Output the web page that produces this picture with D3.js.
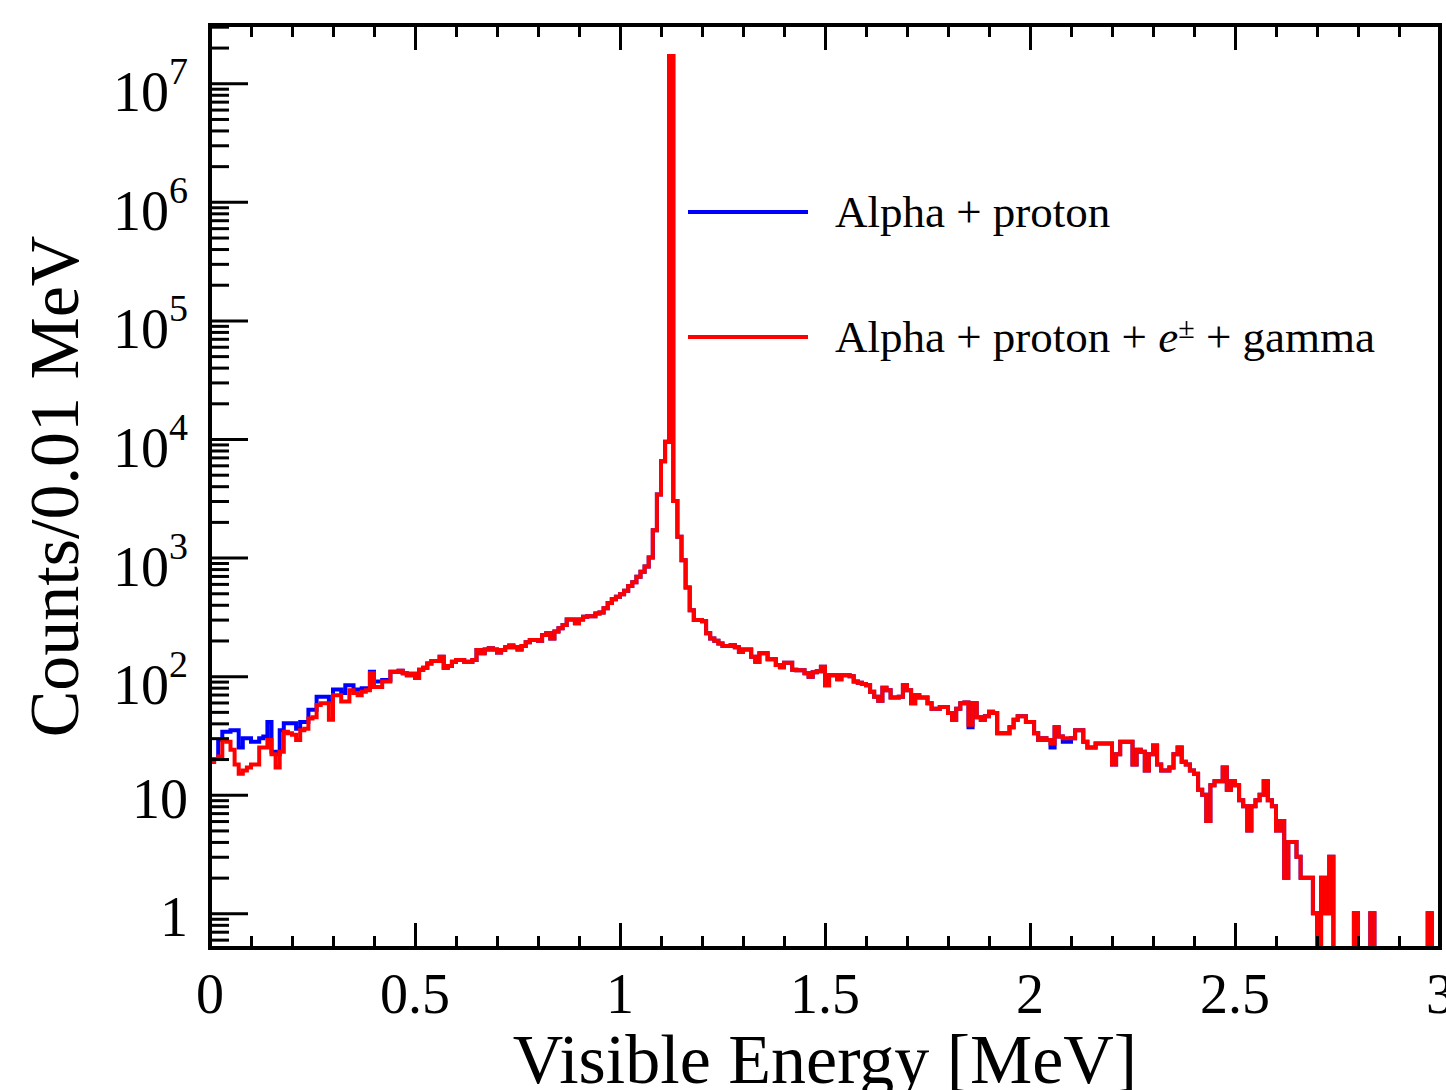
<!DOCTYPE html>
<html>
<head>
<meta charset="utf-8">
<script src="https://cdn.jsdelivr.net/npm/d3@7"></script>
<style>
  body { margin: 0; background: #fff; }
  text { font-family: "Liberation Serif", "Times New Roman", serif; fill: #000; }
</style>
</head>
<body>
<svg id="chart"></svg>
<script>
// histogram: 300 bins of 0.01 MeV from 0 to 3 MeV
const binWidth = 0.01;

// "Alpha + proton + e± + gamma" (red), counts per bin
const redCounts = [
  19, 20, 21, 29, 28, 24, 18, 15, 16, 17,
  18, 18, 25, 25, 29, 22, 17, 23, 34, 33,
  32, 29, 35, 36, 44, 45, 57, 59, 59, 43,
  69, 69, 61, 61, 76, 72, 69, 74, 76, 106,
  81, 81, 90, 90, 109, 109, 111, 106, 102, 105,
  97, 113, 118, 128, 134, 134, 146, 118, 122, 132,
  137, 137, 132, 132, 137, 166, 156, 168, 172, 168,
  158, 166, 175, 181, 175, 168, 180, 193, 202, 202,
  199, 222, 230, 208, 238, 253, 270, 300, 300, 279,
  300, 317, 320, 320, 338, 345, 373, 415, 445, 468,
  490, 525, 575, 620, 690, 760, 840, 1000, 1700, 3400,
  6500, 9500, 17000000, 3000, 1500, 950, 560, 360, 297, 297,
  290, 230, 208, 199, 189, 180, 180, 183, 175, 161,
  168, 168, 146, 132, 156, 156, 139, 139, 124, 119,
  130, 130, 113, 112, 112, 106, 99, 108, 110, 120,
  84, 102, 102, 94, 102, 102, 100, 90, 88, 86,
  84, 74, 67, 62, 80, 76, 66, 66, 67, 84,
  76, 59, 69, 66, 66, 59, 53, 53, 55, 55,
  49, 43, 53, 59, 60, 39, 59, 45, 43, 46,
  50, 49, 33, 33, 33, 37, 43, 46, 46, 41,
  41, 33, 29, 30, 29, 27, 37, 31, 30, 30,
  30, 35, 35, 28, 25, 25, 27, 27, 27, 27,
  18, 22, 28, 28, 28, 18, 24, 23, 16, 22,
  26, 18, 16, 16, 17, 22, 25, 19, 18, 16,
  15, 11, 10, 6, 12, 13, 13, 17, 11, 13,
  12, 9, 8, 5, 8, 9, 10, 13, 9, 8,
  5, 6, 2, 4, 4, 3, 2, 2, 2, 1,
  0, 2, 1, 3, 0, 0, 0, 0, 0, 1,
  0, 0, 0, 1, 0, 0, 0, 0, 0, 0,
  0, 0, 0, 0, 0, 0, 0, 1, 0, 0
];

// "Alpha + proton" (blue): bins 0-43 differ from red, a few bins further up too,
// everywhere else it lies under the red line
const blueLowCounts = [
  19, 20, 29, 34, 34, 35, 35, 25, 30, 30,
  28, 28, 30, 31, 41, 23, 22, 35, 40, 40,
  40, 36, 41, 41, 52, 52, 67, 67, 67, 61,
  77, 77, 72, 84, 84, 77, 77, 79, 79, 109,
  90, 90, 93, 93
];
const blueOtherBins = [[185, 37], [205, 25], [208, 28], [209, 28]];

const xTickLabels = ["0", "0.5", "1", "1.5", "2", "2.5", "3"];
const yDecades = [0, 1, 2, 3, 4, 5, 6, 7];

const legendLabels = ["Alpha + proton", "Alpha + proton + e± + gamma"];
const colors = ["#0000ff", "#ff0000"];

const W = 1446, H = 1090;
const m = { left: 210, right: 1440, top: 25, bottom: 948 };

const blueCounts = redCounts.map((c, i) => i < blueLowCounts.length ? blueLowCounts[i] : c);
blueOtherBins.forEach(([i, v]) => { blueCounts[i] = v; });

const svg = d3.select("#chart").attr("width", W).attr("height", H);

const x = d3.scaleLinear().domain([0, 3]).range([m.left, m.right]);
const y = d3.scaleLog().domain([0.51, 3.1e7]).range([m.bottom, m.top]);

svg.append("clipPath").attr("id", "frame")
  .append("rect").attr("x", m.left).attr("y", m.top)
  .attr("width", m.right - m.left).attr("height", m.bottom - m.top);

function histPath(counts) {
  const yb = y.range()[0];
  const p = d3.path();
  p.moveTo(x(0), yb);
  counts.forEach((c, i) => {
    const yy = c > y.domain()[0] ? y(c) : yb;
    p.lineTo(x(i * binWidth), yy);
    p.lineTo(x((i + 1) * binWidth), yy);
  });
  p.lineTo(x(counts.length * binWidth), yb);
  return p.toString();
}

const plot = svg.append("g").attr("clip-path", "url(#frame)");
[blueCounts, redCounts].forEach((counts, k) => {
  plot.append("path")
    .attr("d", histPath(counts))
    .attr("fill", "none")
    .attr("stroke", colors[k])
    .attr("stroke-width", 4)
    .attr("stroke-linejoin", "miter");
});

// ticks
const yMajor = yDecades.map(k => Math.pow(10, k));
const yMinor = [];
for (let k = -1; k <= 7; k++) {
  for (let f = 2; f <= 9; f++) {
    const v = f * Math.pow(10, k);
    if (v > y.domain()[0] && v < y.domain()[1]) yMinor.push(v);
  }
}
const xMajor = d3.range(0, 7).map(i => i * 0.5);
const xMinor = d3.range(0, 31).filter(i => i % 5 !== 0).map(i => i / 10);

function styleAxis(g) {
  g.select(".domain").remove();
  g.selectAll(".tick line").attr("stroke", "#000").attr("stroke-width", 3);
}

svg.append("g").attr("transform", `translate(${m.left},0)`)
  .call(d3.axisRight(y).tickValues(yMajor).tickSize(38).tickFormat(""))
  .call(styleAxis);
svg.append("g").attr("transform", `translate(${m.left},0)`)
  .call(d3.axisRight(y).tickValues(yMinor).tickSize(19).tickFormat(""))
  .call(styleAxis);

[[d3.axisTop, m.bottom], [d3.axisBottom, m.top]].forEach(([axisFn, pos]) => {
  svg.append("g").attr("transform", `translate(0,${pos})`)
    .call(axisFn(x).tickValues(xMajor).tickSize(25).tickFormat(""))
    .call(styleAxis);
  svg.append("g").attr("transform", `translate(0,${pos})`)
    .call(axisFn(x).tickValues(xMinor).tickSize(12).tickFormat(""))
    .call(styleAxis);
});

// frame
svg.append("rect")
  .attr("x", m.left).attr("y", m.top)
  .attr("width", m.right - m.left).attr("height", m.bottom - m.top)
  .attr("fill", "none").attr("stroke", "#000").attr("stroke-width", 4);

// tick labels
svg.append("g").selectAll("text")
  .data(xMajor)
  .join("text")
  .attr("x", d => x(d))
  .attr("y", 1013)
  .attr("text-anchor", "middle")
  .attr("font-size", 56)
  .text((d, i) => xTickLabels[i]);

yDecades.forEach(k => {
  const ty = y(Math.pow(10, k));
  const t = svg.append("text")
    .attr("x", 188)
    .attr("text-anchor", "end")
    .attr("font-size", 56);
  if (k === 0) {
    t.attr("y", ty + 23).text("1");
  } else if (k === 1) {
    t.attr("y", ty + 23).text("10");
  } else {
    t.attr("y", ty + 28);
    t.append("tspan").text("10");
    t.append("tspan").attr("dy", -27).attr("font-size", 38).text(k);
  }
});

// axis titles
svg.append("text")
  .attr("x", (m.left + m.right) / 2)
  .attr("y", 1083)
  .attr("text-anchor", "middle")
  .attr("font-size", 70)
  .text("Visible Energy [MeV]");

svg.append("text")
  .attr("transform", `translate(78,${(m.top + m.bottom) / 2}) rotate(-90)`)
  .attr("text-anchor", "middle")
  .attr("font-size", 70)
  .text("Counts/0.01 MeV");

// legend
const legendY = [212, 337];
legendLabels.forEach((label, i) => {
  svg.append("line")
    .attr("x1", 688).attr("x2", 808)
    .attr("y1", legendY[i]).attr("y2", legendY[i])
    .attr("stroke", colors[i]).attr("stroke-width", 4);
  const t = svg.append("text")
    .attr("x", 835).attr("y", legendY[i] + 15)
    .attr("font-size", 45);
  if (label.includes("e±")) {
    const [a, b] = label.split("e±");
    t.append("tspan").text(a);
    t.append("tspan").attr("font-style", "italic").text("e");
    t.append("tspan").attr("dy", -14).attr("font-size", 30).text("±");
    t.append("tspan").attr("dy", 14).text(b);
  } else {
    t.text(label);
  }
});
</script>
</body>
</html>
